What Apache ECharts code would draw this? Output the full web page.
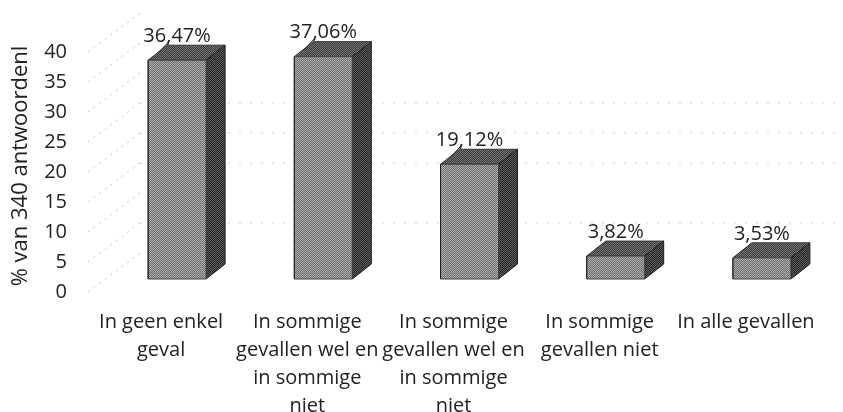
<!DOCTYPE html>
<html>
<head>
<meta charset="utf-8">
<style>html,body{margin:0;padding:0;background:#fff}#main{width:843px;height:412px}</style>
<script src="https://cdn.jsdelivr.net/npm/echarts@6/dist/echarts.min.js"></script>
</head>
<body>
<div id="main"></div>
<script>
var categories = [
    'In geen enkel\ngeval',
    'In sommige\ngevallen wel en\nin sommige\nniet',
    'In sommige\ngevallen wel en\nin sommige\nniet',
    'In sommige\ngevallen niet',
    'In alle gevallen'
];
var values = [36.47, 37.06, 19.12, 3.82, 3.53];
var valueLabels = ['36,47%', '37,06%', '19,12%', '3,82%', '3,53%'];
var yTicks = [0, 5, 10, 15, 20, 25, 30, 35, 40];
var wallTicks = [5, 15, 20, 25];
var yName = '% van 340 antwoordenl';

var FONT = '"Open Sans"';
var BAR_W = 58, SHIFT_X = 16, SHIFT_Y = 13, DEPTH_X = 19, DEPTH_Y = 15;

// halftone look of the scan
function dither(a, b) {
    var c = document.createElement('canvas');
    c.width = c.height = 2;
    var ctx = c.getContext('2d');
    ctx.fillStyle = a; ctx.fillRect(0, 0, 2, 2);
    ctx.fillStyle = b; ctx.fillRect(0, 0, 1, 1); ctx.fillRect(1, 1, 1, 1);
    return {image: c, repeat: 'repeat'};
}
var frontFill = dither('#6f6f6f', '#adadad');
var sideFill = dither('#262626', '#5c5c5c');
var topFill = dither('#3a3a3a', '#757575');

function renderBar(params, api) {
    var i = api.value(0), v = api.value(1);
    var base = api.coord([i, 0]), head = api.coord([i, v]);
    var l = base[0] + SHIFT_X - BAR_W / 2, r = l + BAR_W;
    var b = base[1] - SHIFT_Y, t = head[1] - SHIFT_Y;
    var edge = {stroke: '#1c1c1c', lineWidth: 1};
    var kids = [
        {type: 'polygon', shape: {points: [[l, t], [l + DEPTH_X, t - DEPTH_Y], [r + DEPTH_X, t - DEPTH_Y], [r, t]]},
            style: {fill: topFill, stroke: '#333', lineWidth: 1}},
        {type: 'polygon', shape: {points: [[r, t], [r + DEPTH_X, t - DEPTH_Y], [r + DEPTH_X, b - DEPTH_Y], [r, b]]},
            style: {fill: sideFill, stroke: edge.stroke, lineWidth: 1}},
        {type: 'rect', shape: {x: l, y: t, width: BAR_W, height: b - t},
            style: {fill: frontFill, stroke: '#444', lineWidth: 1}},
        {type: 'line', shape: {x1: l, y1: t, x2: l, y2: b}, style: edge},
        {type: 'text', style: {text: valueLabels[i], x: l + BAR_W / 2, y: t - 24, align: 'center', verticalAlign: 'middle',
            font: '20px ' + FONT, fill: '#222'}}
    ];
    if (v > 10) {
        kids.push({type: 'line', shape: {x1: l + 21, y1: t - 19, x2: l + 11, y2: t - 8},
            style: {stroke: '#222', lineWidth: 1}});
    }
    return {type: 'group', children: kids};
}

function renderDiagonal(params, api) {
    var p = api.coord([0, api.value(0)]);
    var x = p[0] - api.size([1, 0])[0] / 2;
    return {type: 'line', shape: {x1: x, y1: p[1], x2: x + 52, y2: p[1] - 39},
        style: {stroke: '#c4c4c4', lineWidth: 1, lineDash: [2, 5]}};
}

function renderWall(params, api) {
    var p = api.coord([0, api.value(0)]);
    var x = p[0] - api.size([1, 0])[0] / 2 + 52;
    return {type: 'line', shape: {x1: x, y1: p[1] - 39, x2: 835, y2: p[1] - 39},
        style: {stroke: '#cfcfcf', lineWidth: 1, lineDash: [2, 9]}};
}

var chart = echarts.init(document.getElementById('main'), null, {renderer: 'canvas'});
chart.setOption({
    animation: false,
    backgroundColor: '#fff',
    grid: {left: 88, top: 52, width: 731, height: 240, outerBoundsMode: 'none'},
    xAxis: {
        type: 'category',
        data: categories,
        axisLine: {show: false},
        axisTick: {show: false},
        axisLabel: {interval: 0, margin: 16, lineHeight: 28, fontFamily: FONT, fontSize: 20, color: '#222'}
    },
    yAxis: {
        type: 'value',
        min: 0,
        max: 40,
        interval: 5,
        name: yName,
        nameLocation: 'middle',
        nameRotate: 90,
        nameGap: 56,
        nameTextStyle: {fontFamily: FONT, fontSize: 22, color: '#222', padding: [0, 0, 0, 12]},
        axisLine: {show: false},
        axisTick: {show: false},
        splitLine: {show: false},
        axisLabel: {margin: 21, fontFamily: FONT, fontSize: 20, color: '#222', padding: [6, 0, 0, 0]}
    },
    series: [
        {type: 'custom', silent: true, clip: false, z: 1, renderItem: renderDiagonal,
            encode: {y: 0}, data: yTicks.map(function(t) { return [t]; })},
        {type: 'custom', silent: true, clip: false, z: 1, renderItem: renderWall,
            encode: {y: 0}, data: wallTicks.map(function(t) { return [t]; })},
        {type: 'custom', silent: true, clip: false, z: 2, renderItem: renderBar,
            encode: {x: 0, y: 1}, data: values.map(function(v, i) { return [i, v]; })}
    ]
});
</script>
</body>
</html>
